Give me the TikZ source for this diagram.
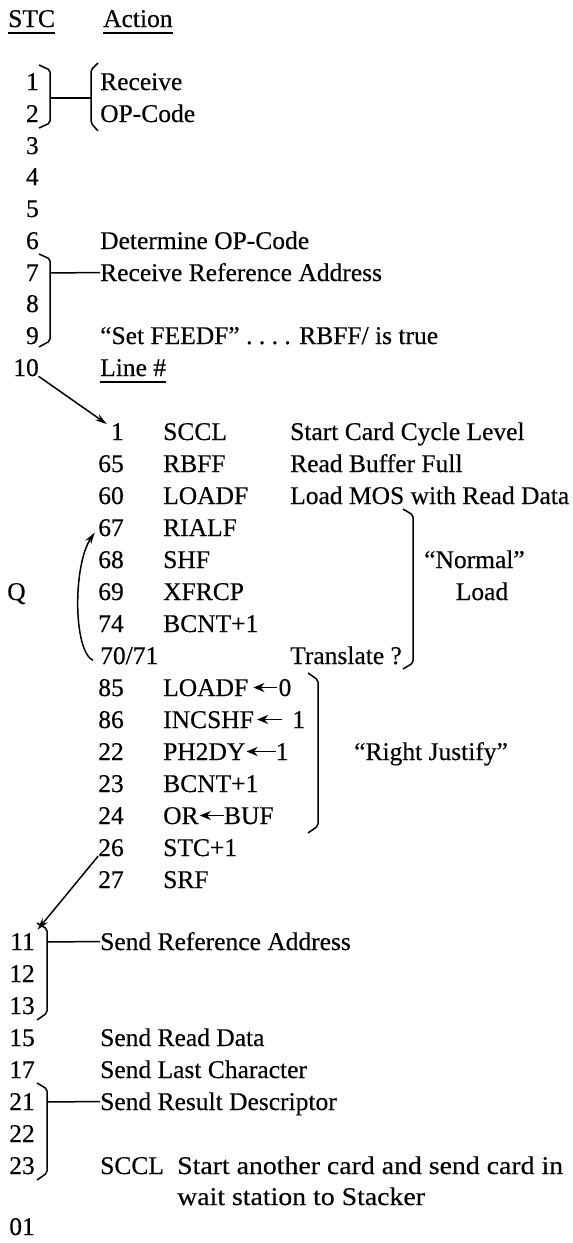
\documentclass[tikz,border=0pt]{standalone}
\usepackage{fontspec}
\setmainfont{Liberation Serif}
\newfontfamily\scanfont[FakeBold=0.35]{Liberation Serif}
\usetikzlibrary{arrows.meta,positioning}
\tikzset{
  entry/.style={
    anchor=base west, inner sep=0pt, text height=17pt, text depth=0pt,
    font=\scanfont\fontsize{25.5}{30}\selectfont
  },
  stcnum/.style={entry, anchor=base east},
  flow/.style={-{Stealth[length=12pt,width=7pt]}, line width=1.5pt},
  setflow/.style={-{Stealth[length=11pt,width=9pt]}, line width=1.7pt},
  tie/.style={line width=1.5pt},
  bracketline/.style={line width=1.5pt, rounded corners=2pt}
}

\begin{document}
\begin{tikzpicture}[x=1pt,y=-1pt]
    \useasboundingbox (0,0) rectangle (573,1243);
    % header
    \node[entry] (stc) at (8,27) {STC};
    \node[entry] (action) at (103,27) {Action};
    \draw[tie] ([yshift=-6pt]stc.base west) -- ([yshift=-6pt]stc.base east);
    \draw[tie] ([yshift=-6pt]action.base west) -- ([yshift=-6pt]action.base east);
    % first part
    \node[stcnum] (s1) at (39,90) {1};
    \node[stcnum] (s2) at (39,122) {2};
    \node[stcnum] (s3) at (39,154) {3};
    \node[stcnum] (s4) at (39,185) {4};
    \node[stcnum] (s5) at (39,217) {5};
    \node[stcnum] (s6) at (39,249) {6};
    \node[stcnum] (s7) at (39,281) {7};
    \node[stcnum] (s8) at (39,312) {8};
    \node[stcnum] (s9) at (39,344) {9};
    \node[stcnum] (s10) at (39,376) {10};
    \node[entry] (receive) at (100,90) {Receive};
    \node[entry] (opcode) at (100,122) {OP-Code};
    \node[entry] (determine) at (100,249) {Determine OP-Code};
    \node[entry] (refaddr) at (100,281) {Receive Reference Address};
    \node[entry] (setfeed) at (100,344) {“Set FEEDF” .\ .\ .\ . RBFF/ is true};
    \node[entry] (linehdr) at (100,376) {Line \#};
    \draw[tie] ([yshift=-6pt]linehdr.base west) -- ([yshift=-6pt]linehdr.base east);
    \draw[bracketline] (39,65) -- (50,70) -- (50,123) -- (39,128);
    \draw[bracketline] (98,63) -- (91,70) -- (91,123) -- (98,131);
    \coordinate (k12) at (50,98);
    \coordinate (r12) at (91,98);
    \draw[tie] (k12) -- (r12);
    \draw[bracketline] (39,254) -- (50,259) -- (50,341) -- (39,347);
    \coordinate (k79) at (50,273);
    \draw[tie] (k79) -- (refaddr.west);
    % line numbers
    \node[stcnum] (m1) at (124,440) {1};
    \node[stcnum] (m65) at (124,472) {65};
    \node[stcnum] (m60) at (124,504) {60};
    \node[stcnum] (m67) at (124,536) {67};
    \node[stcnum] (m68) at (124,568) {68};
    \node[stcnum] (m69) at (124,600) {69};
    \node[stcnum] (m74) at (124,632) {74};
    \node[entry] (m70) at (100,664) {70/71};
    \node[stcnum] (m85) at (124,696) {85};
    \node[stcnum] (m86) at (124,728) {86};
    \node[stcnum] (m22) at (124,760) {22};
    \node[stcnum] (m23) at (124,792) {23};
    \node[stcnum] (m24) at (124,824) {24};
    \node[stcnum] (m26) at (124,856) {26};
    \node[stcnum] (m27) at (124,888) {27};
    \node[entry] (sccl) at (163,440) {SCCL};
    \node[entry] (rbff) at (163,472) {RBFF};
    \node[entry] (loadf) at (163,504) {LOADF};
    \node[entry] (rialf) at (163,536) {RIALF};
    \node[entry] (shf) at (163,568) {SHF};
    \node[entry] (xfrcp) at (163,600) {XFRCP};
    \node[entry] (bcnta) at (163,632) {BCNT+1};
    \node[entry] (loadfz) at (163,696) {LOADF};
    \node[entry,right=30pt of loadfz] (zero) {0};
    \node[entry] (incshf) at (163,728) {INCSHF};
    \node[entry,right=38pt of incshf] (onea) {1};
    \node[entry] (ph2dy) at (163,760) {PH2DY};
    \node[entry,right=30pt of ph2dy] (oneb) {1};
    \node[entry] (bcntb) at (163,792) {BCNT+1};
    \node[entry] (orreg) at (163,824) {OR};
    \node[entry,right=25pt of orreg] (buf) {BUF};
    \node[entry] (stcinc) at (163,856) {STC+1};
    \node[entry] (srf) at (163,888) {SRF};
    \draw[setflow, shorten <=1pt, shorten >=5pt] (zero) -- (loadfz);
    \draw[setflow, shorten <=10pt, shorten >=3pt] (onea) -- (incshf);
    \draw[setflow, shorten >=1pt] (oneb) -- (ph2dy);
    \draw[setflow, shorten >=1pt] (buf) -- (orreg);
    \node[entry] (startcc) at (290,440) {Start Card Cycle Level};
    \node[entry] (readbf) at (290,472) {Read Buffer Full};
    \node[entry] (loadmos) at (290,504) {Load MOS with Read Data};
    \node[entry] (translate) at (290,664) {Translate ?};
    \draw[bracketline] (403,509) -- (413,515) -- (413,663) -- (403,669);
    \node[entry] (normal) at (424,568) {“Normal”};
    \node[entry,anchor=base] (nload) at (482,600) {Load};
    \draw[bracketline] (308,673) -- (318,680) -- (318,826) -- (308,833);
    \node[entry] (rjust) at (354,760) {“Right Justify”};
    \node[entry] (qloop) at (7,600) {Q};
    \draw[flow, shorten >=5pt] (s10) -- (m1);
    \draw[flow, shorten <=8pt, shorten >=6pt] (m70.south west) .. controls (73,650) and (73,565) .. (m67.west);
    % second part
    \node[stcnum] (n11) at (35,950) {11};
    \node[stcnum] (n12) at (35,982) {12};
    \node[stcnum] (n13) at (35,1014) {13};
    \node[stcnum] (n15) at (35,1046) {15};
    \node[stcnum] (n17) at (35,1078) {17};
    \node[stcnum] (n21) at (35,1110) {21};
    \node[stcnum] (n22) at (35,1142) {22};
    \node[stcnum] (n23) at (35,1174) {23};
    \node[stcnum] (n01) at (35,1235) {01};
    \draw[flow, shorten >=4pt] (m26.south west) -- (n11.north east);
    \node[entry] (sendref) at (100,950) {Send Reference Address};
    \node[entry] (sendread) at (100,1046) {Send Read Data};
    \node[entry] (sendlast) at (100,1078) {Send Last Character};
    \node[entry] (sendres) at (100,1110) {Send Result Descriptor};
    \node[entry] (scclb) at (100,1174) {SCCL};
    \node[entry] (another) at (177,1174) {\scalebox{1.09}[1]{Start another card and send card in}};
    \node[entry] (waitst) at (177,1205) {\scalebox{1.09}[1]{wait station to Stacker}};
    \draw[bracketline] (37,923) -- (47,929) -- (47,1013) -- (37,1020);
    \coordinate (k11) at (47,942);
    \draw[tie] (k11) -- (sendref.west);
    \draw[bracketline] (37,1083) -- (47,1089) -- (47,1173) -- (37,1180);
    \coordinate (k21) at (47,1102);
    \draw[tie] (k21) -- (sendres.west);
\end{tikzpicture}
\end{document}
